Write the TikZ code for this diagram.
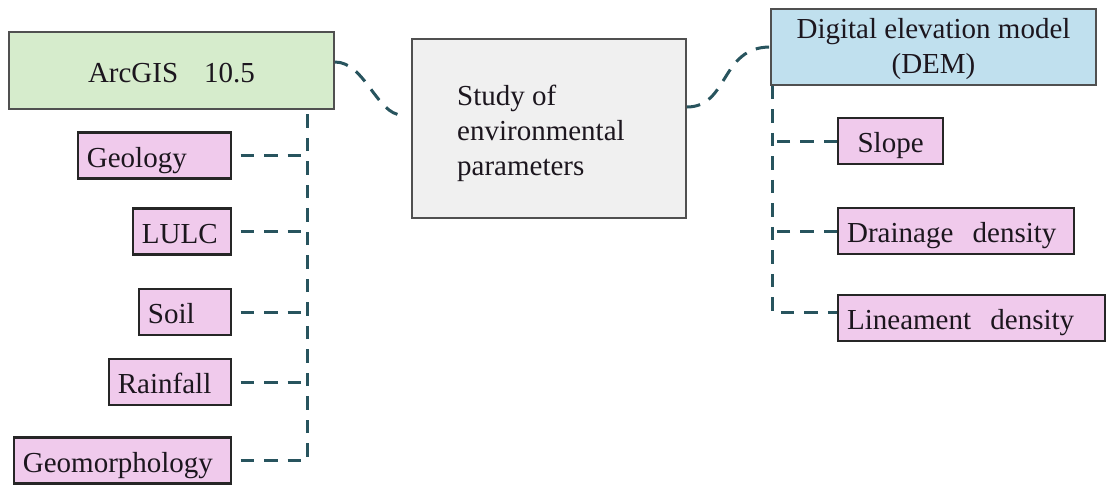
\documentclass[tikz,border=0pt]{standalone}
\usepackage{fontspec}
\setmainfont{Liberation Serif}
\definecolor{lgreen}{RGB}{214,236,204}
\definecolor{lpink}{RGB}{240,202,236}
\definecolor{lblue}{RGB}{192,224,238}
\definecolor{lgray}{RGB}{240,240,240}
\definecolor{connc}{RGB}{40,84,94}
\definecolor{bord}{RGB}{80,80,80}
\definecolor{txt}{RGB}{28,22,30}
\begin{document}
\begin{tikzpicture}[x=1pt,y=-1pt,
  every node/.style={font=\fontsize{29}{35}\selectfont, text=txt},
  mainbox/.style={draw=bord, line width=1.8pt, inner sep=0pt, align=center},
  onetext/.style={text height=23pt, text depth=0pt},
  pinkbox/.style={draw=black!85, line width=2.2pt, fill=lpink, inner xsep=9pt, inner ysep=0pt, minimum height=46pt, align=left, onetext},
  connline/.style={draw=connc, line width=3pt, dash pattern=on 13.5pt off 10pt}
]
\useasboundingbox (0,0) rectangle (1107,485);
% main boxes
\node[mainbox, onetext, fill=lgreen, minimum width=325pt, minimum height=77pt] (arc) at (171.5,70.5) {ArcGIS\hspace{26pt}10.5};
\node[mainbox, fill=lgray, minimum width=274pt, minimum height=179pt] (study) at (549,128.5) {};
\node[anchor=west, inner sep=0pt, align=left] (studytxt) at (457,133) {Study of\\environmental\\parameters};
\node[mainbox, fill=lblue, minimum width=325pt, minimum height=76pt] (dem) at (933.5,47) {};
\node[inner sep=0pt, align=center] (demtxt) at (933.5,49) {Digital elevation model\\(DEM)};
% left pink boxes
\node[pinkbox, anchor=east, text width=135pt] (geo) at (232,155.5) {Geology};
\node[pinkbox, anchor=east, text width=80pt] (lulc) at (232,231.5) {LULC};
\node[pinkbox, anchor=east, text width=74pt] (soil) at (232,312) {Soil};
\node[pinkbox, anchor=east, text width=104pt] (rain) at (232,382) {Rainfall};
\node[pinkbox, anchor=east, text width=199pt] (geom) at (232,460.5) {Geomorphology};
% right pink boxes
\node[pinkbox, anchor=west, text width=87pt, align=center] (slope) at (837,141) {Slope};
\node[pinkbox, anchor=west, text width=218pt] (drain) at (837,231) {Drainage\ \ density};
\node[pinkbox, anchor=west, text width=249pt] (lin) at (837,318) {Lineament\ \ density};
% connectors
\coordinate (lv) at (307,0);
\coordinate (rv) at (772,0);
\coordinate (linin) at ([yshift=6pt]lin.west);
\draw[connline] ([xshift=8.5pt]geom.east) -- (lv |- geom.east) -- (lv |- arc.south);
\draw[connline] ([xshift=8.5pt]geo.east) -- (lv |- geo.east);
\draw[connline] ([xshift=8.5pt]lulc.east) -- (lv |- lulc.east);
\draw[connline] ([xshift=8.5pt]soil.east) -- (lv |- soil.east);
\draw[connline] ([xshift=8.5pt]rain.east) -- (lv |- rain.east);
\draw[connline] (rv |- dem.south) -- (rv |- linin) -- (linin);
\draw[connline] (slope.west) -- (rv |- slope.west);
\draw[connline] (drain.west) -- (rv |- drain.west);
\draw[connline] ([yshift=8.5pt]arc.east) .. controls +(30,0) and +(-25,0) .. ([xshift=-9pt,yshift=13.5pt]study.west);
\draw[connline] ([yshift=21.5pt]study.east) .. controls +(42,0) and +(-50,0) .. (dem.west);
\end{tikzpicture}
\end{document}
